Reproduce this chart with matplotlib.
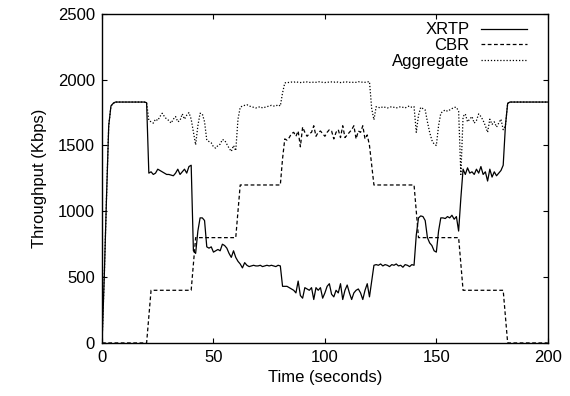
import numpy as np
import matplotlib
matplotlib.use("Agg")
import matplotlib.pyplot as plt

# throughput samples, one per second (t = 0 .. 200)
time_s = np.arange(0, 201)

xrtp = ([0, 500, 1100, 1650, 1800, 1820] + [1830] * 14 +
        [1825, 1290, 1300, 1280, 1290, 1320, 1310, 1300, 1290, 1280,
         1280, 1275, 1270, 1290, 1320, 1280, 1300, 1320, 1290, 1340,
         1350, 700, 680, 850, 950, 950, 930, 730, 720, 730,
         690, 700, 710, 700, 750, 740, 720, 680, 650, 700,
         650, 620, 600, 570, 610, 590, 580, 585, 590, 585,
         585, 590, 580, 585, 590, 585, 590, 585, 580, 590,
         585, 430, 430, 430, 420, 410, 400, 380, 470, 360,
         340, 420, 410, 400, 420, 330, 420, 400, 420, 340,
         380, 430, 450, 370, 350, 400, 380, 450, 330, 400,
         440, 380, 330, 380, 400, 410, 380, 330, 400, 450,
         350, 470, 590, 595, 590, 600, 585, 595, 590, 580,
         595, 590, 600, 585, 590, 575, 595, 590, 580, 595,
         590, 820, 950, 965, 960, 930, 800, 760, 740, 700,
         690, 850, 950, 950, 945, 960, 950, 970, 940, 960,
         850, 1100, 1320, 1280, 1330, 1290, 1300, 1280, 1320, 1290,
         1340, 1280, 1300, 1230, 1320, 1260, 1300, 1270, 1290, 1310,
         1350, 1650, 1820] + [1830] * 18)

cbr = ([0] * 21 + [200] + [400] * 19 + [600] + [800] * 19 + [1000] +
       [1200] * 19 + [1400] +
       [1550, 1540, 1560, 1590, 1600, 1570, 1610, 1490,
        1640, 1600, 1570, 1590, 1600, 1650, 1570, 1600, 1610, 1590,
        1570, 1600, 1620, 1610, 1550, 1600, 1620, 1560, 1650, 1560,
        1580, 1600, 1620, 1650, 1550, 1610, 1600, 1650, 1550, 1580,
        1500, 1350] +
       [1200] * 19 + [1000] + [800] * 19 + [600] + [400] * 19 + [200] +
       [0] * 19)

aggregate = ([0, 500, 1100, 1650, 1800, 1820] + [1830] * 14 +
             [1825, 1690, 1680, 1670, 1700, 1690, 1720, 1745, 1720, 1700, 1690,
              1670, 1700, 1720, 1680, 1690, 1740, 1700, 1730, 1750, 1700,
              1600, 1505, 1650, 1745, 1740, 1680, 1540, 1530, 1520, 1490,
              1480, 1500, 1510, 1545, 1540, 1510, 1480, 1455, 1500, 1460,
              1700, 1790, 1800, 1805, 1810, 1800, 1795, 1790, 1785, 1790,
              1795, 1785, 1790, 1795, 1800, 1805, 1800, 1800, 1810, 1800,
              1900, 1975, 1980, 1978, 1982, 1980, 1985, 1980, 1978, 1982,
              1980, 1983, 1980, 1978, 1982, 1980, 1985, 1982, 1980, 1978,
              1982, 1980, 1983, 1980, 1985, 1980, 1978, 1982, 1980, 1983,
              1980, 1982, 1978, 1980, 1985, 1980, 1982, 1980, 1983, 1985,
              1780, 1695, 1795, 1790, 1785, 1795, 1790, 1785, 1790, 1795,
              1790, 1785, 1790, 1795, 1790, 1785, 1795, 1800, 1790, 1795,
              1600, 1730, 1790, 1780, 1770, 1680, 1600, 1540, 1510, 1500,
              1650, 1745, 1760, 1770, 1760, 1770, 1780, 1790, 1790, 1760,
              1280, 1720, 1740, 1680, 1700, 1720, 1670, 1690, 1740, 1720,
              1690, 1650, 1600, 1700, 1660, 1680, 1640, 1670, 1700, 1620,
              1650, 1820] + [1830] * 18)

plt.rcParams['font.family'] = ['Liberation Sans', 'DejaVu Sans']
plt.rcParams['font.size'] = 12

fig = plt.figure(figsize=(5.7, 3.96), dpi=100)
ax = fig.add_axes([0.179, 0.134, 0.782, 0.831])

ax.plot(time_s, xrtp, color='black', linewidth=0.9, label='XRTP')
ax.plot(time_s, cbr, color='black', linewidth=0.9, dashes=(3, 2), label='CBR')
ax.plot(time_s, aggregate, color='black', linewidth=0.9, dashes=(1, 1.5),
        label='Aggregate')

ax.set_xlim(0, 200)
ax.set_ylim(0, 2500)
ax.set_xticks([0, 50, 100, 150, 200])
ax.set_yticks([0, 500, 1000, 1500, 2000, 2500])
ax.tick_params(direction='in', top=True, right=True, length=3.5, width=0.8, pad=5)
for s in ax.spines.values():
    s.set_linewidth(1.0)

ax.set_xlabel('Time (seconds)', labelpad=4)
ax.set_ylabel('Throughput (Kbps)', labelpad=8)

# key sits a little in from the right frame, labels right-aligned
ax.legend(loc='upper right', bbox_to_anchor=(0.954, 0.974), markerfirst=False,
          frameon=False, handlelength=2.8, handletextpad=0.66, labelspacing=0.05,
          borderaxespad=0.0, borderpad=0.0)

fig.savefig('out.png', dpi=100)
